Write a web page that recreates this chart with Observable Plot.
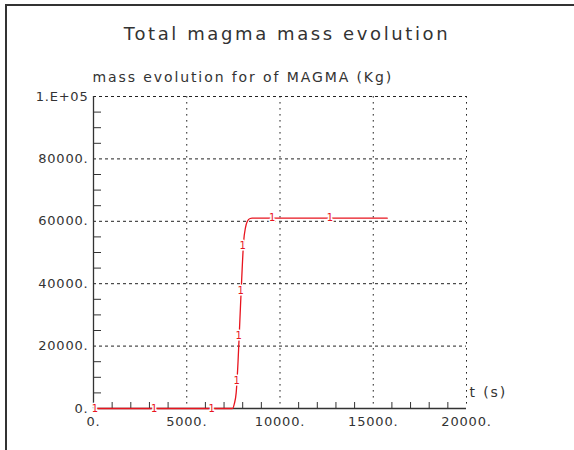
<!DOCTYPE html>
<html>
<head>
<meta charset="utf-8">
<script src="https://cdn.jsdelivr.net/npm/d3@7"></script>
<script src="https://cdn.jsdelivr.net/npm/@observablehq/plot@0.6"></script>
<style>
  html, body { margin: 0; padding: 0; background: white; }
  #wrap { position: relative; width: 574px; height: 450px; }
  #frame { position: absolute; left: 5px; top: 4px; width: 569px; height: 446px;
           border-top: 2px solid #333; border-left: 2px solid #333; pointer-events: none; box-sizing: border-box; }
  svg text { letter-spacing: 0.8px; }
  g[font-size="18"] text { letter-spacing: 2.6px; }
  g[font-size="14"] text { letter-spacing: 1.9px; }
</style>
</head>
<body>
<div id="wrap"><div id="frame"></div></div>
<script>
// Data
const timeS = [0, 7300, 7450, 7550, 7650, 7750, 7850, 7950, 8050, 8150, 8250, 8400, 8500, 15750];
const massKg = [0, 0, 0, 1500, 5000, 15000, 28500, 42000, 53500, 58000, 60000, 60900, 61000, 61000];

// curve label "1" positions
const labelT = [100, 3270, 6360, 7705, 7812, 7919, 8026, 9600, 12700];
const labelM = [0, 0, 0, 9000, 23400, 37800, 52200, 61000, 61000];

const xTicks = [0, 5000, 10000, 15000, 20000];
const xTickLabels = ["0.", "5000.", "10000.", "15000.", "20000."];
const yTicks = [0, 20000, 40000, 60000, 80000, 100000];
const yTickLabels = ["0.", "20000.", "40000.", "60000.", "80000.", "1.E+05"];
const xMinor = [1000,2000,3000,4000,6000,7000,8000,9000,11000,12000,13000,14000,16000,17000,18000,19000];
const yMinor = [5000,10000,15000,25000,30000,35000,45000,50000,55000,65000,70000,75000,85000,90000,95000];

const titleText = "Total magma mass evolution";
const subtitleText = "mass evolution for of MAGMA (Kg)";
const xLabelText = "t (s)";

const curve = timeS.map((t, i) => ({t, m: massKg[i]}));
const labels = labelT.map((t, i) => ({t, m: labelM[i]}));

const ink = "#333";
const red = "#e8141e";

const chart = Plot.plot({
  width: 574,
  height: 450,
  marginLeft: 93,
  marginRight: 108,
  marginTop: 96,
  marginBottom: 42,
  x: {domain: [0, 20000], label: null},
  y: {domain: [0, 100000], label: null},
  style: {fontFamily: "DejaVu Sans", color: ink, background: "transparent", overflow: "visible"},
  marks: [
    Plot.gridX(xTicks.slice(1), {stroke: "#222", strokeOpacity: 1, strokeDasharray: "1.6,4.4"}),
    Plot.gridY(yTicks.slice(1), {stroke: "#222", strokeOpacity: 1, strokeDasharray: "3,3"}),
    Plot.axisX(xMinor, {tickSize: -6, tickFormat: () => "", stroke: ink, label: null}),
    Plot.axisY(yMinor, {tickSize: -8, tickFormat: () => "", stroke: ink, label: null}),
    Plot.axisX(xTicks, {tickSize: 0, tickPadding: 8, fontSize: 13, fill: ink,
      tickFormat: d => xTickLabels[xTicks.indexOf(d)], label: null}),
    Plot.axisY(yTicks, {tickSize: 0, tickPadding: 5, fontSize: 13, fill: ink,
      tickFormat: d => yTickLabels[yTicks.indexOf(d)], label: null}),
    Plot.ruleX([0], {stroke: ink, strokeWidth: 1.3}),
    Plot.ruleY([0], {stroke: ink, strokeWidth: 1.3}),
    Plot.line(curve, {x: "t", y: "m", stroke: red, strokeWidth: 1.3, curve: "monotone-x"}),
    Plot.text(labels, {x: "t", y: "m", text: () => "1", fill: red, fontSize: 10,
      stroke: "white", strokeWidth: 3}),
    Plot.text([titleText], {frameAnchor: "top", lineAnchor: "middle", dx: 7, dy: -62,
      fontSize: 18, fill: ink}),
    Plot.text([subtitleText], {frameAnchor: "top-left", textAnchor: "start", lineAnchor: "middle",
      dx: -1, dy: -19, fontSize: 14, fill: ink}),
    Plot.text([xLabelText], {frameAnchor: "bottom-right", textAnchor: "start", lineAnchor: "middle",
      dx: 3, dy: -16, fontSize: 14, fill: ink})
  ]
});
document.getElementById("wrap").prepend(chart);
</script>
</body>
</html>
